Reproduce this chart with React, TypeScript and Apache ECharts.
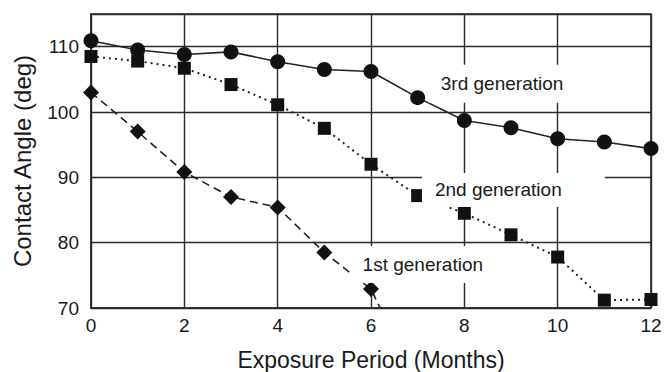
import React, { useEffect, useRef } from "react";
import * as echarts from "echarts";

const months = [0, 1, 2, 3, 4, 5, 6, 7, 8, 9, 10, 11, 12];
const thirdGen = [110.9, 109.5, 108.8, 109.2, 107.7, 106.5, 106.2, 102.2, 98.7, 97.6, 95.9, 95.4, 94.4];
const secondGen = [108.5, 107.8, 106.7, 104.2, 101.1, 97.5, 92.0, 87.2, 84.5, 81.2, 77.8, 71.2, 71.3];
const firstGenMonths = [0, 1, 2, 3, 4, 5, 6];
const firstGen = [103.0, 97.0, 90.8, 87.0, 85.4, 78.5, 72.9];
const firstGenTail = [7, 58];
const yTicks = [70, 80, 90, 100, 110];
const seriesLabels = ["3rd generation", "2nd generation", "1st generation"];
const labelCoords = [
  [8.83, 104.33],
  [9.05, 88.08],
  [7.11, 76.67],
];

const FONT = "'Liberation Sans', Arial, Helvetica, sans-serif";
const INK = "#1a1a1a";

export default function App() {
  const ref = useRef<HTMLDivElement>(null);

  useEffect(() => {
    if (!ref.current) return;
    const chart = echarts.init(ref.current, undefined, { renderer: "svg" });

    const labelPadding = [
      [9, 14, 9, 12],
      [11, 43, 3, 13],
      [9, 12, 8, 12],
    ];

    const option: any = {
      animation: false,
      backgroundColor: "#ffffff",
      grid: {
        left: 91,
        right: 14,
        top: 14,
        bottom: 64,
        containLabel: false,
        outerBoundsMode: "none",
        show: true,
        borderColor: "#2a2a2a",
        borderWidth: 1.6,
        backgroundColor: "transparent",
      },
      xAxis: {
        type: "value",
        min: 0,
        max: 12,
        interval: 2,
        name: "Exposure Period (Months)",
        nameLocation: "middle",
        nameGap: 40,
        nameTextStyle: { fontFamily: FONT, fontSize: 23, lineHeight: 24, color: INK },
        axisLine: { show: true, lineStyle: { color: "#2a2a2a", width: 1.6 } },
        axisTick: { show: false },
        axisLabel: { fontFamily: FONT, fontSize: 19, color: INK, margin: 8 },
        splitLine: { show: true, lineStyle: { color: "#2a2a2a", width: 1.4 } },
      },
      yAxis: {
        type: "value",
        min: yTicks[0],
        max: 115,
        interval: 10,
        name: "Contact Angle (deg)",
        nameLocation: "middle",
        nameGap: 57,
        nameTextStyle: { fontFamily: FONT, fontSize: 24, color: INK },
        axisLine: { show: true, lineStyle: { color: "#2a2a2a", width: 1.6 } },
        axisTick: { show: false },
        axisLabel: {
          fontFamily: FONT,
          fontSize: 19,
          color: INK,
          margin: 12,
          showMaxLabel: false,
          formatter: (v: number) => (yTicks.includes(v) ? String(v) : ""),
        },
        splitLine: { show: true, lineStyle: { color: "#2a2a2a", width: 1.4 } },
      },
      series: [
        {
          name: seriesLabels[0],
          type: "line",
          data: months.map((m, i) => [m, thirdGen[i]]),
          symbol: "circle",
          symbolSize: 15,
          itemStyle: { color: "#111" },
          lineStyle: { color: "#222", width: 1.6, type: "solid" },
          z: 3,
        },
        {
          name: seriesLabels[1],
          type: "line",
          data: months.map((m, i) => [m, secondGen[i]]),
          symbol: "rect",
          symbolSize: 13,
          itemStyle: { color: "#111" },
          lineStyle: { color: "#222", width: 2, type: [2, 4] },
          z: 3,
        },
        {
          name: seriesLabels[2],
          type: "line",
          data: [
            ...firstGenMonths.map((m, i) => [m, firstGen[i]]),
            { value: firstGenTail, symbol: "none" },
          ],
          symbol: "diamond",
          symbolSize: 16,
          itemStyle: { color: "#111" },
          lineStyle: { color: "#222", width: 1.6, type: [8, 5] },
          clip: true,
          z: 3,
          markPoint: {
            symbol: "rect",
            symbolSize: 0,
            z: 10,
            silent: true,
            data: seriesLabels.map((text, i) => ({
              coord: labelCoords[i],
              value: text,
              label: {
                show: true,
                position: "inside",
                formatter: text,
                fontFamily: FONT,
                fontSize: 19,
                lineHeight: 20,
                color: INK,
                backgroundColor: "#ffffff",
                padding: labelPadding[i],
              },
            })),
          },
        },
      ],
    };

    chart.setOption(option);
    return () => chart.dispose();
  }, []);

  return <div ref={ref} style={{ width: 665, height: 372, position: "fixed", left: 0, top: 0 }} />;
}
